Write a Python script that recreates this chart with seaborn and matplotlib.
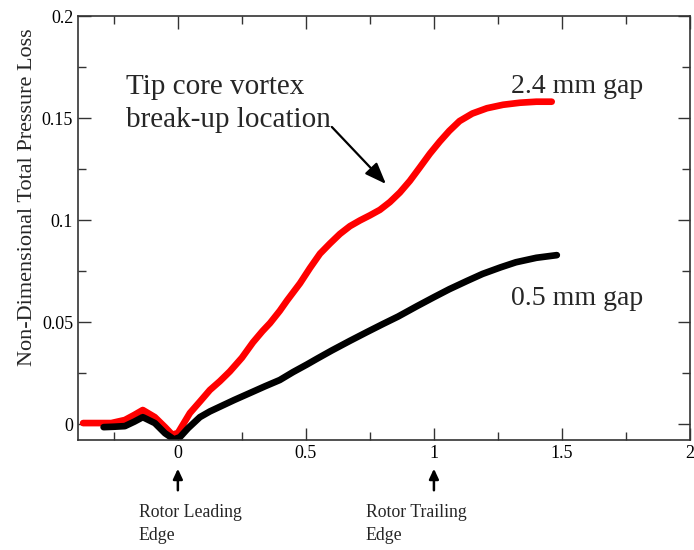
import matplotlib
matplotlib.use("Agg")
import matplotlib.pyplot as plt
import seaborn as sns
import pandas as pd
import numpy as np

# ---- data ----
red_x = [-0.37, -0.30, -0.26, -0.207, -0.17, -0.137, -0.09, -0.05, -0.022, 0.0,
         0.047, 0.086, 0.125, 0.164, 0.203, 0.25, 0.293, 0.33, 0.36, 0.398,
         0.426, 0.477, 0.516, 0.555, 0.594, 0.633, 0.672, 0.711, 0.75, 0.789,
         0.828, 0.867, 0.906, 0.945, 0.984, 1.023, 1.06, 1.10, 1.15, 1.207,
         1.27, 1.336, 1.40, 1.46]
red_y = [0.0005, 0.0005, 0.0005, 0.002, 0.0045, 0.0069, 0.0034, -0.0015, -0.0052, -0.0044,
         0.0054, 0.011, 0.0167, 0.021, 0.0258, 0.0325, 0.040, 0.0455, 0.0495, 0.0555,
         0.0605, 0.069, 0.0765, 0.0835, 0.0885, 0.0932, 0.097, 0.0998, 0.1023, 0.105,
         0.1088, 0.1135, 0.1192, 0.1258, 0.1325, 0.1385, 0.1437, 0.1485, 0.1522, 0.1548,
         0.1565, 0.1575, 0.158, 0.158]

black_x = [-0.29, -0.25, -0.207, -0.17, -0.137, -0.09, -0.05, -0.015, 0.008, 0.04,
           0.086, 0.125, 0.164, 0.22, 0.281, 0.34, 0.398, 0.45, 0.504, 0.543,
           0.60, 0.672, 0.74, 0.80, 0.86, 0.934, 1.0, 1.06, 1.13, 1.19,
           1.26, 1.32, 1.40, 1.48]
black_y = [-0.0015, -0.0013, -0.001, 0.0012, 0.0034, 0.0005, -0.0045, -0.0075, -0.0064, -0.002,
           0.0034, 0.0062, 0.0085, 0.0118, 0.0152, 0.0185, 0.0216, 0.0255, 0.0292, 0.032,
           0.036, 0.0408, 0.0452, 0.049, 0.0527, 0.0578, 0.0622, 0.0661, 0.0702, 0.0736,
           0.0768, 0.0793, 0.0815, 0.0828]

x_ticks = [0, 0.5, 1, 1.5, 2]
x_tick_labels = ["0", "0.5", "1", "1.5", "2"]
y_ticks = [0, 0.05, 0.1, 0.15, 0.2]
y_tick_labels = ["0", "0.05", "0.1", "0.15", "0.2"]

df = pd.concat([
    pd.DataFrame({"x": red_x, "y": red_y, "gap": "2.4 mm gap"}),
    pd.DataFrame({"x": black_x, "y": black_y, "gap": "0.5 mm gap"}),
])

sns.set_style("ticks")
plt.rcParams["font.family"] = ["Liberation Serif", "DejaVu Serif"]

fig = plt.figure(figsize=(6.94, 5.5), dpi=100)
ax = fig.add_axes([0.1124, 0.2, 0.8818, 0.7709])

sns.lineplot(data=df, x="x", y="y", hue="gap", sort=False,
             palette={"2.4 mm gap": "#ff0000", "0.5 mm gap": "#000000"},
             linewidth=4.8, legend=False, ax=ax,
             solid_capstyle="round", solid_joinstyle="round")

ax.set_xlim(-0.39, 2.0)
ax.set_ylim(-0.0078, 0.2)
ax.set_xticks(x_ticks)
ax.set_xticklabels(x_tick_labels)
ax.set_yticks(y_ticks)
ax.set_yticklabels(y_tick_labels)
ax.set_xticks([-0.25, 0.25, 0.75, 1.25, 1.75], minor=True)
ax.set_yticks([0.025, 0.075, 0.125, 0.175], minor=True)
ax.tick_params(which="both", direction="in", top=True, right=True,
               labelsize=13, width=1, colors="#333333", labelcolor="black")
ax.tick_params(which="major", length=9)
ax.tick_params(which="minor", length=6)
for s in ax.spines.values():
    s.set_linewidth(1.2)
    s.set_color("#333333")
ax.set_xlabel("")
ax.set_ylabel("Non-Dimensional Total Pressure Loss", fontsize=16)
ax.yaxis.set_label_coords(-0.067, 0.573)

ax.text(-0.203, 0.157, "Tip core vortex\nbreak-up location", fontsize=21,
        ha="left", va="center", linespacing=1.33)
ax.annotate("", xy=(0.82, 0.1167), xytext=(0.594, 0.1466),
            arrowprops=dict(arrowstyle="-|>,head_length=1.3,head_width=0.5",
                            color="black", lw=1.6))
ax.text(1.30, 0.1655, "2.4 mm gap", fontsize=20, ha="left", va="center")
ax.text(1.30, 0.0615, "0.5 mm gap", fontsize=20, ha="left", va="center")

# rotor edge markers below the axis
for xv, lab, dx in [(0.0, "Rotor Leading\nEdge", -0.152), (1.0, "Rotor Trailing\nEdge", -0.266)]:
    ax.annotate("", xy=(xv, -0.0205), xytext=(xv, -0.0338),
                xycoords="data", textcoords="data", annotation_clip=False,
                arrowprops=dict(arrowstyle="-|>,head_length=0.6,head_width=0.28",
                                color="black", lw=1.8))
    ax.text(xv + dx, -0.039, lab, fontsize=12.75, ha="left", va="top",
            linespacing=1.5, clip_on=False)

fig.savefig("out.png", dpi=100)
